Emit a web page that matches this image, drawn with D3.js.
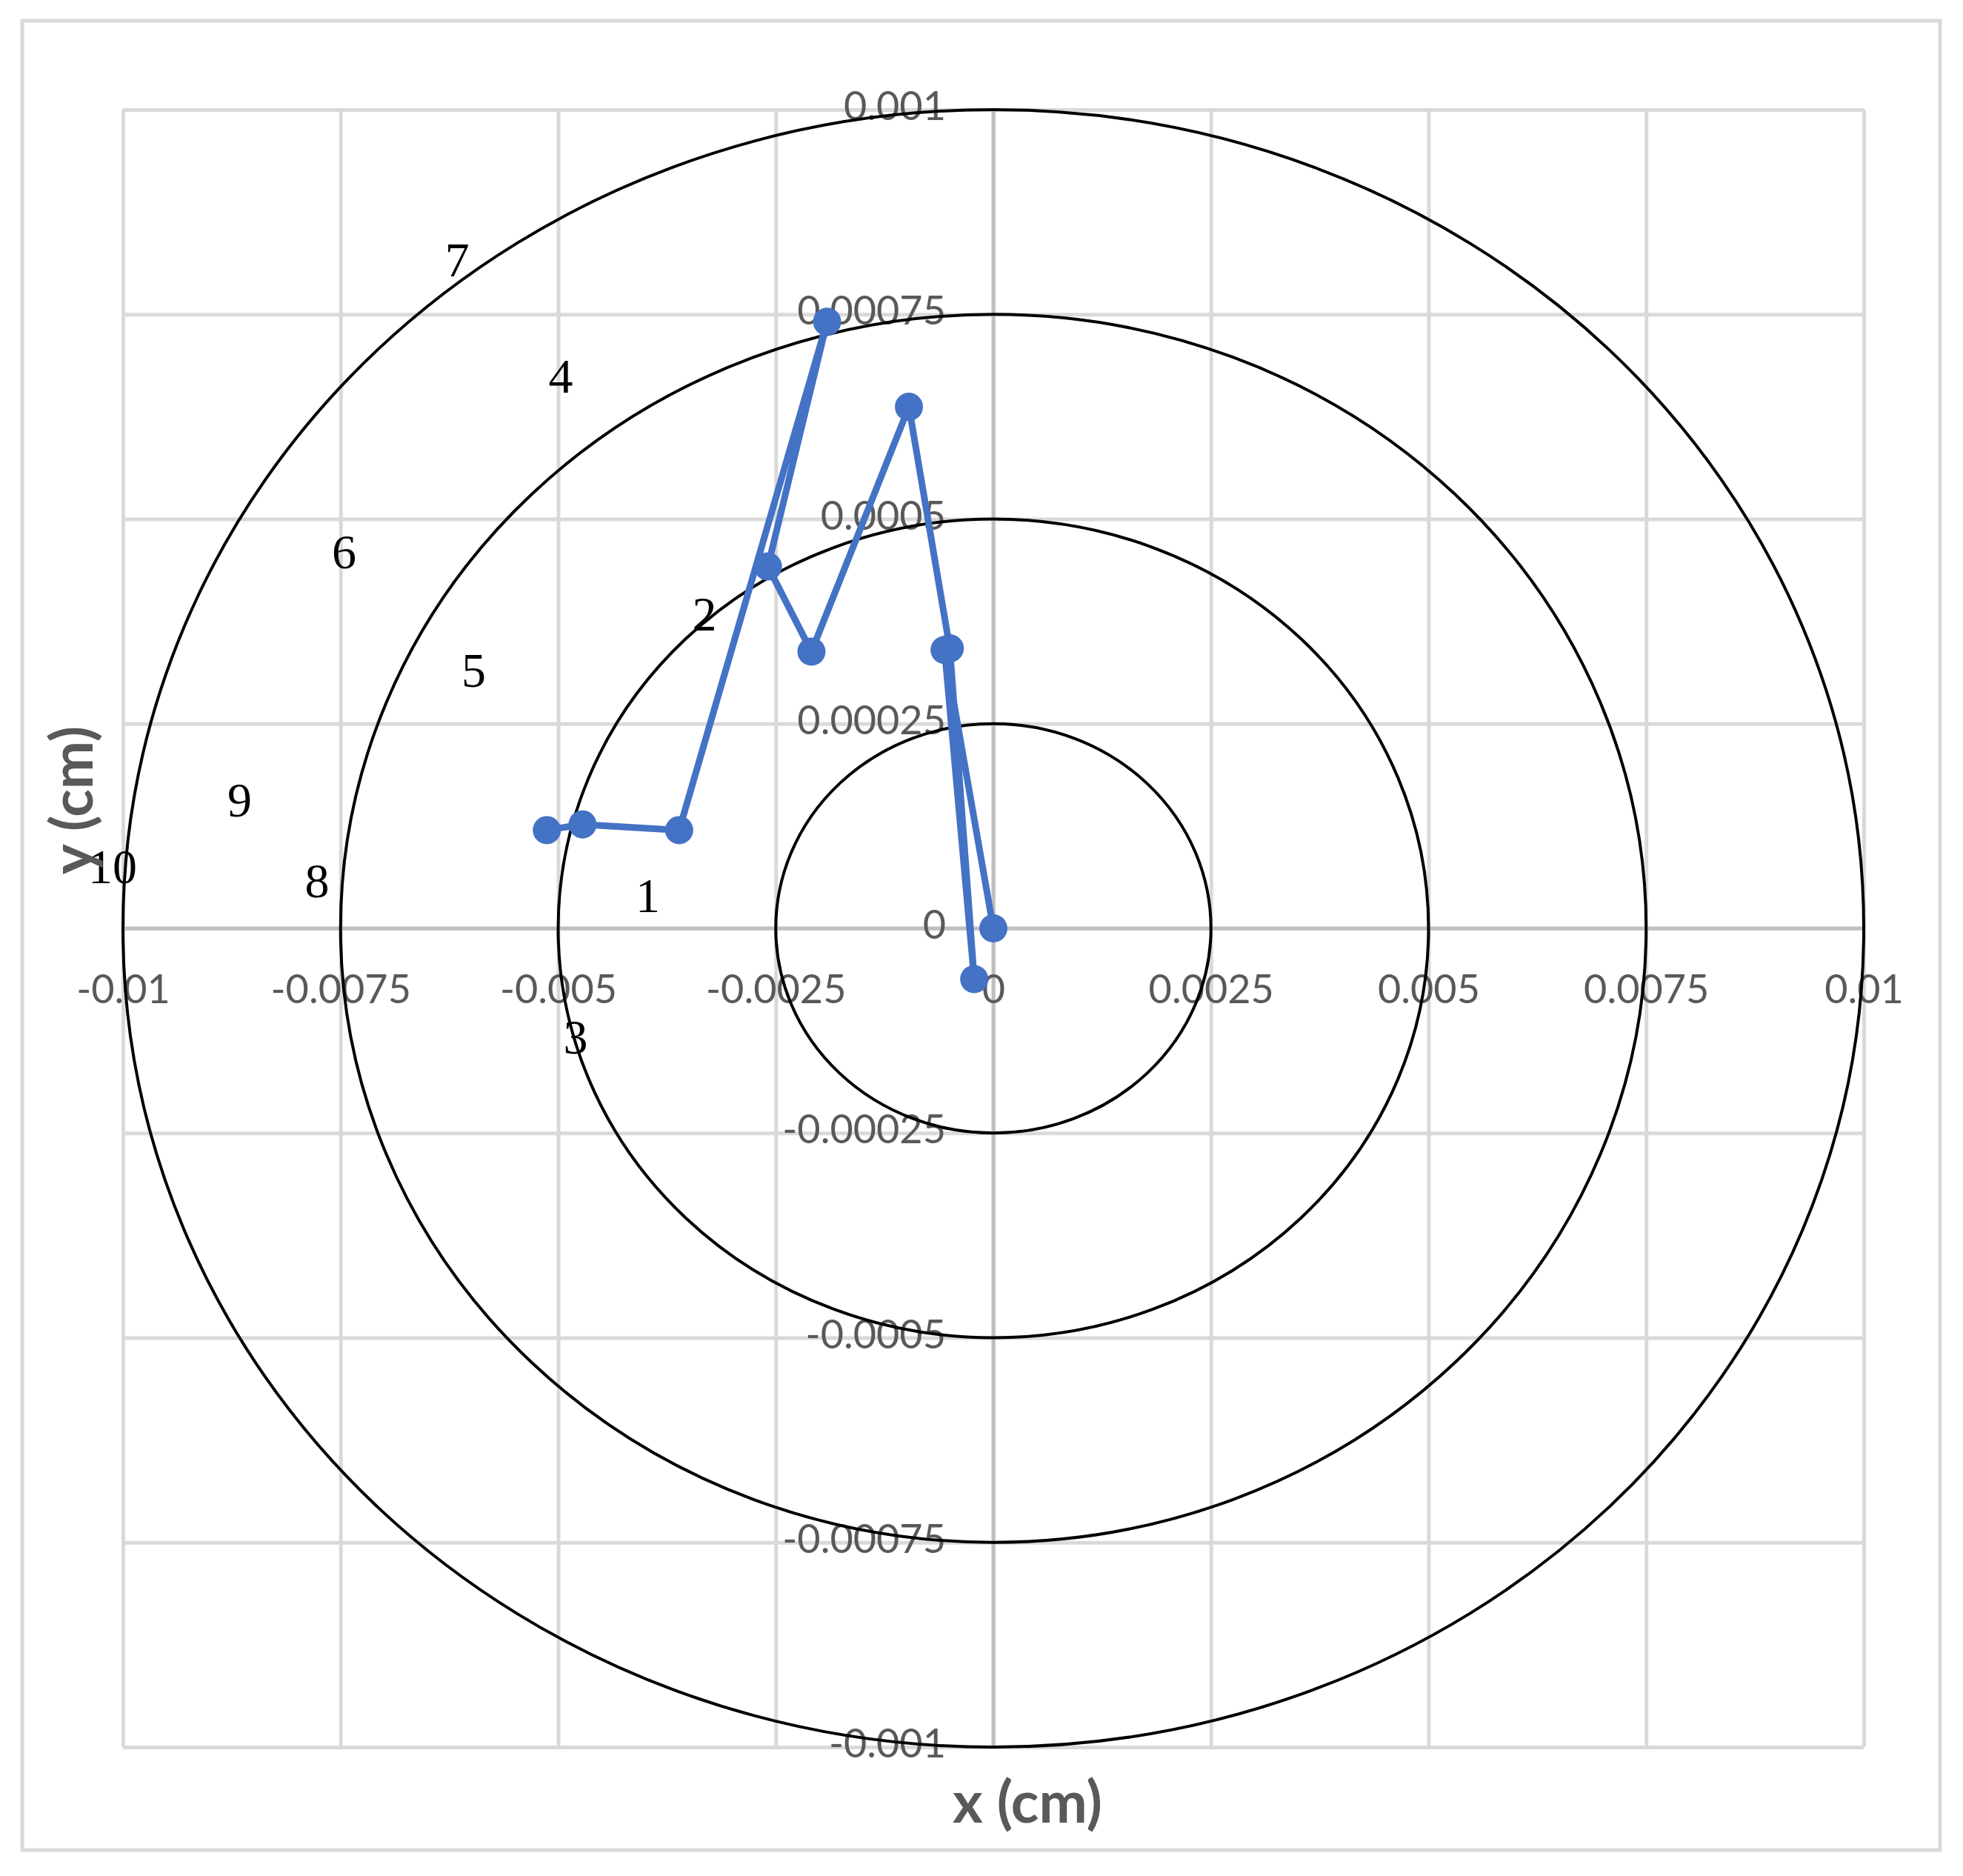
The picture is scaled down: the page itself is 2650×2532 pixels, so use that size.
<!DOCTYPE html>
<meta charset="utf-8">
<style>
body { margin: 0; background: #fff; }

.grid line {
  stroke: #d9d9d9;
  stroke-width: 5px;
}

.grid .domain { display: none; }

.zero {
  stroke: #bfbfbf;
  stroke-width: 5px;
}

.ring {
  fill: none;
  stroke: #000;
  stroke-width: 4px;
}

.tick text, .ticklabel text {
  font-family: Lato, "Open Sans", sans-serif;
  font-size: 54px;
  fill: #595959;
}

.trace {
  fill: none;
  stroke: #4472c4;
  stroke-width: 9px;
  stroke-linejoin: round;
}

.dot { fill: #4472c4; }

.num {
  font-family: "Liberation Serif", "DejaVu Serif", serif;
  font-size: 66px;
  fill: #000;
}

.title {
  font-family: Lato, "Open Sans", sans-serif;
  font-size: 78px;
  font-weight: bold;
  fill: #595959;
}
</style>
<svg width="2650" height="2532"></svg>
<script src="https://cdnjs.cloudflare.com/ajax/libs/d3/7.8.5/d3.min.js"></script>
<script>
// ticks
var xTicks = [-0.01, -0.0075, -0.005, -0.0025, 0, 0.0025, 0.005, 0.0075, 0.01];
var xTickLabels = ["-0.01", "-0.0075", "-0.005", "-0.0025", "0", "0.0025", "0.005", "0.0075", "0.01"];
var yTicks = [-0.001, -0.00075, -0.0005, -0.00025, 0, 0.00025, 0.0005, 0.00075, 0.001];
var yTickLabels = ["-0.001", "-0.00075", "-0.0005", "-0.00025", "0", "0.00025", "0.0005", "0.00075", "0.001"];

// target rings (x radius, y radius)
var ringRx = [0.0025, 0.005, 0.0075, 0.01];
var ringRy = [0.00025, 0.0005, 0.00075, 0.001];

// measured path
var pathX = [0, -0.00056, -0.00022, -0.0005, -0.00097, -0.00209, -0.00259, -0.00191, -0.00361, -0.00472, -0.00513];
var pathY = [0, 0.00034, -0.000062, 0.000342, 0.000637, 0.000338, 0.000442, 0.000741, 0.00012, 0.000127, 0.00012];

// numbered labels
var numText = ["1", "2", "3", "4", "5", "6", "7", "8", "9", "10"];
var numX = [-0.00397, -0.00332, -0.0048, -0.00497, -0.00597, -0.00746, -0.00616, -0.00777, -0.00866, -0.01012];
var numY = [0.000041, 0.000385, -0.000132, 0.000675, 0.000316, 0.000461, 0.000817, 0.000059, 0.000158, 0.000076];

var svg = d3.select("svg");
var plotL = 166, plotR = 2516, plotT = 148, plotB = 2358;

var x = d3.scaleLinear().domain([-0.01, 0.01]).range([plotL, plotR]);
var y = d3.scaleLinear().domain([-0.001, 0.001]).range([plotB, plotT]);

// outer chart border
svg.append("rect")
    .attr("x", 30).attr("y", 28)
    .attr("width", 2589).attr("height", 2469)
    .attr("fill", "none")
    .attr("stroke", "#d9d9d9")
    .attr("stroke-width", 5);

// gridlines
svg.append("g")
    .attr("class", "grid")
    .attr("transform", "translate(0," + plotB + ")")
    .call(d3.axisBottom(x).tickValues(xTicks).tickSize(-(plotB - plotT)).tickFormat(""));

svg.append("g")
    .attr("class", "grid")
    .attr("transform", "translate(" + plotL + ",0)")
    .call(d3.axisLeft(y).tickValues(yTicks).tickSize(-(plotR - plotL)).tickFormat(""));

// zero axes
svg.append("line").attr("class", "zero")
    .attr("x1", x(0)).attr("x2", x(0)).attr("y1", plotT).attr("y2", plotB);
svg.append("line").attr("class", "zero")
    .attr("x1", plotL).attr("x2", plotR).attr("y1", y(0)).attr("y2", y(0));

// tick labels
var xa = svg.append("g")
    .attr("class", "ticklabel")
    .attr("transform", "translate(0," + y(0) + ")")
    .call(d3.axisBottom(x).tickValues(xTicks).tickSize(0)
      .tickFormat(function(d, i) { return xTickLabels[i]; }));
xa.select(".domain").remove();
xa.selectAll("text").attr("y", 82).attr("dy", "0.35em");

var ya = svg.append("g")
    .attr("class", "ticklabel")
    .attr("transform", "translate(" + x(0) + ",0)")
    .call(d3.axisLeft(y).tickValues(yTicks).tickSize(0).tickPadding(64)
      .tickFormat(function(d, i) { return yTickLabels[i]; }));
ya.select(".domain").remove();
ya.selectAll("text").attr("dy", "0.25em");

// rings
svg.selectAll(".ring")
    .data(ringRx)
  .enter().append("ellipse")
    .attr("class", "ring")
    .attr("cx", x(0))
    .attr("cy", y(0))
    .attr("rx", function(d) { return x(d) - x(0); })
    .attr("ry", function(d, i) { return y(0) - y(ringRy[i]); });

// path
var pts = pathX.map(function(d, i) { return [d, pathY[i]]; });
var line = d3.line()
    .x(function(d) { return x(d[0]); })
    .y(function(d) { return y(d[1]); });

svg.append("path")
    .datum(pts)
    .attr("class", "trace")
    .attr("d", line);

svg.selectAll(".dot")
    .data(pts)
  .enter().append("circle")
    .attr("class", "dot")
    .attr("cx", function(d) { return x(d[0]); })
    .attr("cy", function(d) { return y(d[1]); })
    .attr("r", 19);

// numbers
svg.selectAll(".num")
    .data(numText)
  .enter().append("text")
    .attr("class", "num")
    .attr("text-anchor", "middle")
    .attr("dy", "0.35em")
    .attr("x", function(d, i) { return x(numX[i]); })
    .attr("y", function(d, i) { return y(numY[i]); })
    .text(function(d) { return d; });

// axis titles
svg.append("text")
    .attr("class", "title")
    .attr("text-anchor", "middle")
    .attr("x", 1387)
    .attr("y", 2460)
    .text("x (cm)");

svg.append("text")
    .attr("class", "title")
    .attr("text-anchor", "middle")
    .attr("transform", "translate(125,1080) rotate(-90)")
    .text("y (cm)");
</script>
